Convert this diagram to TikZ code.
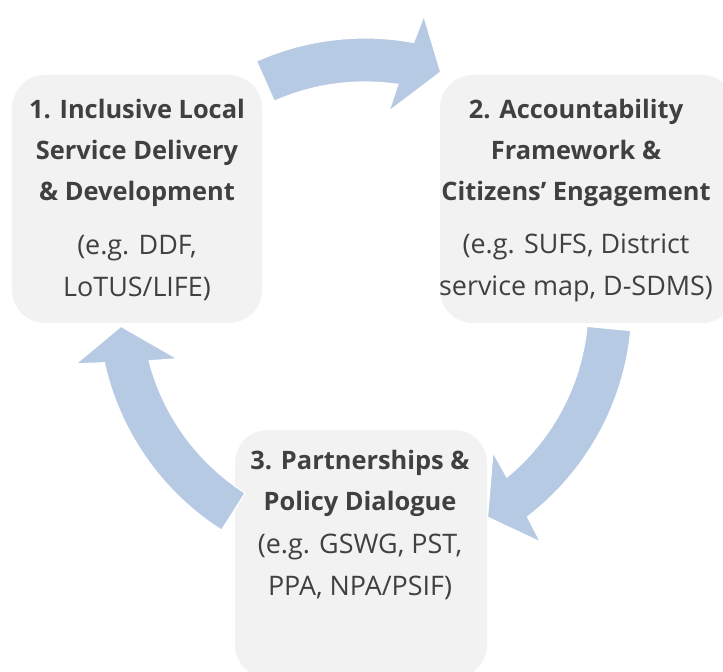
\documentclass[tikz,border=0pt]{standalone}
\usepackage{fontspec}
\setmainfont{Open Sans}
\usetikzlibrary{calc,positioning}

\definecolor{cyclefill}{RGB}{183,202,228}
\definecolor{boxfill}{RGB}{242,242,242}
\definecolor{inkgray}{RGB}{64,64,64}

\tikzset{
  stagebox/.style={fill=boxfill, rounded corners=33bp, minimum height=248bp, inner sep=0pt},
  stagetitle/.style={align=center, text=inkgray, font=\bfseries\fontsize{25.5}{41}\selectfont},
  stagenote/.style={align=center, text=inkgray, font=\fontsize{27}{41.5}\selectfont},
  arrowfill/.style={fill=cyclefill, draw=white, line width=1.2bp},
}

% curved arrow round (hub): tail angle, head base angle, tip angle
\newcommand{\cyclearrow}[3]{%
  \path[arrowfill] ($(hub)+(#1:267)$) arc[start angle=#1, end angle=#2-1, radius=267]
    -- ($(hub)+(#2-2:295)$) -- ($(hub)+(#3:245)$) -- ($(hub)+(#2+2.5:195)$)
    -- ($(hub)+(#2+1:223)$) arc[start angle=#2+1, end angle=#1, radius=223] -- cycle;}

\begin{document}
\begin{tikzpicture}[x=1bp,y=1bp]
\useasboundingbox (0,0) rectangle (723,672);
\coordinate (hub) at (365,367);

% the three stages
\node[stagebox, minimum width=250bp] (box1) at (137,473) {};
\node[stagebox, minimum width=295bp] (box2) at (587.5,473) {};
\node[stagebox, minimum width=252bp] (box3) at (361,118) {};

\node[stagetitle] (title1) at (137,519) {1. Inclusive Local\\Service Delivery\\\& Development};
\node[stagenote] (note1) at (137,404) {(e.g. DDF,\\LoTUS/LIFE)};
\node[stagetitle] (title2) at (576,519) {2. Accountability\\Framework \&\\Citizens' Engagement};
\node[stagenote] (note2) at (576,404) {(e.g. SUFS, District\\service map, D-SDMS)};
\node[stagetitle] (title3) at (360,189) {3. Partnerships \&\\Policy Dialogue};
\node[stagenote] (note3) at (360,105) {(e.g. GSWG, PST,\\PPA, NPA/PSIF)};

% arrows going round clockwise
\cyclearrow{114}{80.5}{72}
\cyclearrow{-5.5}{-51.5}{-60}
\cyclearrow{237.5}{193.5}{185}
\end{tikzpicture}
\end{document}
